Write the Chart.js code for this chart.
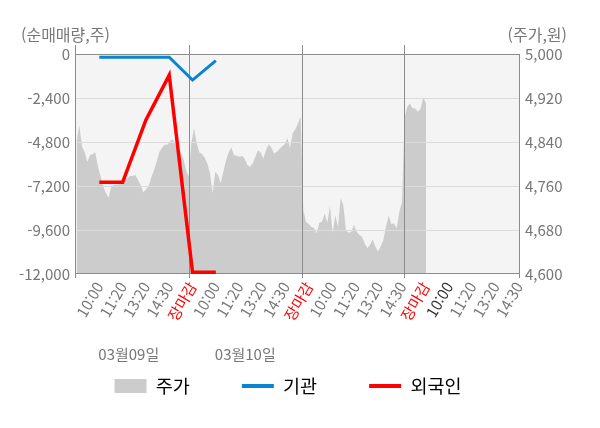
<!DOCTYPE html>
<html lang="ko">
<head>
<meta charset="utf-8">
<script src="https://cdn.jsdelivr.net/npm/chart.js@4.4.1/dist/chart.umd.min.js"></script>
<style>
  html, body { margin: 0; padding: 0; background: #fff; }
</style>
</head>
<body>
<canvas id="chart" width="600" height="428"></canvas>
<script>
// x축 라벨 (슬롯 1..19)
const timeLabels = [
  '10:00', '11:20', '13:20', '14:30', '장마감',
  '10:00', '11:20', '13:20', '14:30', '장마감',
  '10:00', '11:20', '13:20', '14:30', '장마감',
  '10:00', '11:20', '13:20', '14:30'
];
const dateLabels = ['03월09일', '03월10일'];

// 순매매량 (주) - 슬롯 1부터
const instFlow = [-180, -180, -180, -180, -1420, -360];
const foreignFlow = [-7000, -7000, -3600, -1150, -11900, -11900];

// 주가 (원) - 분 단위 샘플
const price = [
  4841, 4871, 4832, 4822, 4804, 4816, 4818, 4821, 4795, 4777, 4758, 4747, 4739, 4760, 4762,
  4762, 4764, 4768, 4772, 4774, 4778, 4778, 4780, 4771, 4762, 4748, 4754, 4760, 4776, 4789,
  4804, 4822, 4829, 4835, 4835, 4841, 4845, 4835, 4829, 4822, 4810, 4789, 4777,
  4838, 4865, 4838, 4821, 4818, 4812, 4801, 4783, 4747, 4786, 4780, 4765, 4786, 4807, 4821,
  4830, 4816, 4815, 4813, 4815, 4810, 4798, 4795, 4801, 4813, 4825, 4821, 4810, 4825, 4836,
  4830, 4819, 4822, 4827, 4832, 4836, 4847, 4829, 4856, 4863, 4874, 4886,
  4716, 4695, 4691, 4686, 4683, 4674, 4693, 4695, 4710, 4693, 4724, 4674, 4707, 4686, 4738,
  4725, 4679, 4675, 4677, 4689, 4677, 4671, 4668, 4656, 4647, 4653, 4663, 4650, 4641, 4650,
  4662, 4686, 4707, 4691, 4692, 4683, 4713, 4731,
  4886, 4904, 4910, 4901, 4901, 4895, 4901, 4922, 4910
];
// 장 구분선 (주가 샘플 위치)
const sessionBreaks = [42.3, 84.6, 122.9];

const FONT = "'Noto Sans CJK KR', 'Noto Sans', sans-serif";
Chart.defaults.font.family = FONT;
Chart.defaults.color = '#777';

const slotMax = timeLabels.length + 0.05;
const dateSlots = [1];
timeLabels.forEach((t, i) => {
  if (t === '장마감' && dateSlots.length < dateLabels.length) dateSlots.push(i + 2);
});
const todayIndex = timeLabels.lastIndexOf('장마감') + 1;

function strokeLine(ctx, x1, y1, x2, y2) {
  ctx.beginPath();
  ctx.moveTo(x1, y1);
  ctx.lineTo(x2, y2);
  ctx.stroke();
}

// 배경, 격자, 제목, 날짜
const framePlugin = {
  id: 'frame',
  beforeDraw(chart) {
    const { ctx, chartArea: a } = chart;
    ctx.save();
    ctx.fillStyle = '#f4f4f4';
    ctx.fillRect(a.left, a.top, a.width, a.height);
    ctx.restore();
  },
  afterDatasetDraw(chart, args) {
    if (args.index !== 0) return;
    const { ctx, chartArea: a, scales } = chart;
    ctx.save();
    ctx.lineWidth = 1;
    ctx.strokeStyle = '#dcdcdc';
    scales.y.ticks.forEach(t => {
      const y = Math.round(scales.y.getPixelForValue(t.value)) + 0.5;
      if (y < a.top + 2 || y > a.bottom - 2) return;
      strokeLine(ctx, a.left, y, a.right, y);
    });
    ctx.strokeStyle = '#8c8c8c';
    const top = Math.round(a.top) + 0.5;
    const bottom = Math.round(a.bottom) - 0.5;
    strokeLine(ctx, a.left, top, a.right, top);
    strokeLine(ctx, a.left, bottom, a.right, bottom);
    const left = Math.round(a.left) - 0.5;
    const right = Math.round(a.right) - 0.5;
    strokeLine(ctx, left, a.top - 9, left, a.bottom + 4);
    strokeLine(ctx, right, a.top, right, a.bottom + 4);
    sessionBreaks.forEach(v => {
      const x = Math.round(scales.xp.getPixelForValue(v)) + 0.5;
      strokeLine(ctx, x, a.top - 9, x, a.bottom + 4);
    });
    ctx.restore();
  },
  afterDraw(chart) {
    const { ctx, scales } = chart;
    ctx.save();
    ctx.fillStyle = '#777';
    ctx.textBaseline = 'middle';
    ctx.font = '16px ' + FONT;
    ctx.textAlign = 'left';
    ctx.fillText('(순매매량,주)', 21, 35);
    ctx.textAlign = 'right';
    ctx.fillText('(주가,원)', 567, 35);
    ctx.font = '15px ' + FONT;
    ctx.textAlign = 'left';
    dateLabels.forEach((d, i) => {
      ctx.fillText(d, scales.x.getPixelForValue(dateSlots[i]) - 1, 354);
    });
    ctx.restore();
  }
};

new Chart(document.getElementById('chart'), {
  type: 'line',
  data: {
    datasets: [
      {
        label: '주가',
        data: price.map((v, i) => ({ x: i, y: v })),
        xAxisID: 'xp',
        yAxisID: 'y2',
        fill: 'start',
        backgroundColor: '#cccccc',
        borderColor: '#cccccc',
        borderWidth: 0,
        pointRadius: 0,
        tension: 0,
        order: 3
      },
      {
        label: '기관',
        data: instFlow.map((v, i) => ({ x: i + 1, y: v })),
        xAxisID: 'x',
        yAxisID: 'y',
        borderColor: '#0a84d0',
        borderWidth: 3,
        pointRadius: 0,
        fill: false,
        tension: 0,
        order: 2
      },
      {
        label: '외국인',
        data: foreignFlow.map((v, i) => ({ x: i + 1, y: v })),
        xAxisID: 'x',
        yAxisID: 'y',
        borderColor: '#ff0000',
        borderWidth: 3.5,
        pointRadius: 0,
        fill: false,
        tension: 0,
        order: 1
      }
    ]
  },
  options: {
    responsive: false,
    animation: false,
    locale: 'en-US',
    layout: { padding: { top: 54, left: 0, right: 24, bottom: 22.75 } },
    scales: {
      x: {
        type: 'linear',
        position: 'bottom',
        min: 0,
        max: slotMax,
        grid: { display: false, drawTicks: false },
        border: { display: false },
        afterBuildTicks: s => { s.ticks = timeLabels.map((_, i) => ({ value: i + 1 })); },
        afterFit: s => { s.height = 50.75; },
        ticks: {
          autoSkip: false,
          minRotation: 60,
          maxRotation: 60,
          padding: 5,
          font: { size: 15 },
          color: c => timeLabels[c.index] === '장마감' ? '#ff0000' : (c.index === todayIndex ? '#333' : '#777'),
          callback: (v, i) => timeLabels[i]
        }
      },
      xp: {
        type: 'linear',
        display: false,
        min: -0.25,
        max: 166.25
      },
      y: {
        type: 'linear',
        position: 'left',
        min: -12000,
        max: 0,
        grid: { display: false, drawTicks: false },
        border: { display: false },
        afterFit: s => { s.width = 76; },
        ticks: { stepSize: 2400, padding: 6, font: { size: 15 }, color: '#777' }
      },
      y2: {
        type: 'linear',
        position: 'right',
        min: 4600,
        max: 5000,
        grid: { display: false, drawTicks: false },
        border: { display: false },
        afterFit: s => { s.width = 56; },
        ticks: { stepSize: 80, padding: 5, font: { size: 15 }, color: '#777' }
      }
    },
    plugins: {
      legend: {
        position: 'bottom',
        labels: {
          usePointStyle: true,
          pointStyleWidth: 32,
          boxHeight: 14,
          padding: 52,
          color: '#333',
          font: { size: 18.5 },
          generateLabels: chart => chart.data.datasets.map((d, i) => ({
            text: d.label,
            fillStyle: d.borderColor,
            strokeStyle: d.borderColor,
            lineWidth: i === 0 ? 0 : 4,
            pointStyle: i === 0 ? 'rect' : 'line',
            hidden: false,
            datasetIndex: i
          }))
        }
      },
      tooltip: { enabled: false }
    }
  },
  plugins: [framePlugin]
});
</script>
</body>
</html>
